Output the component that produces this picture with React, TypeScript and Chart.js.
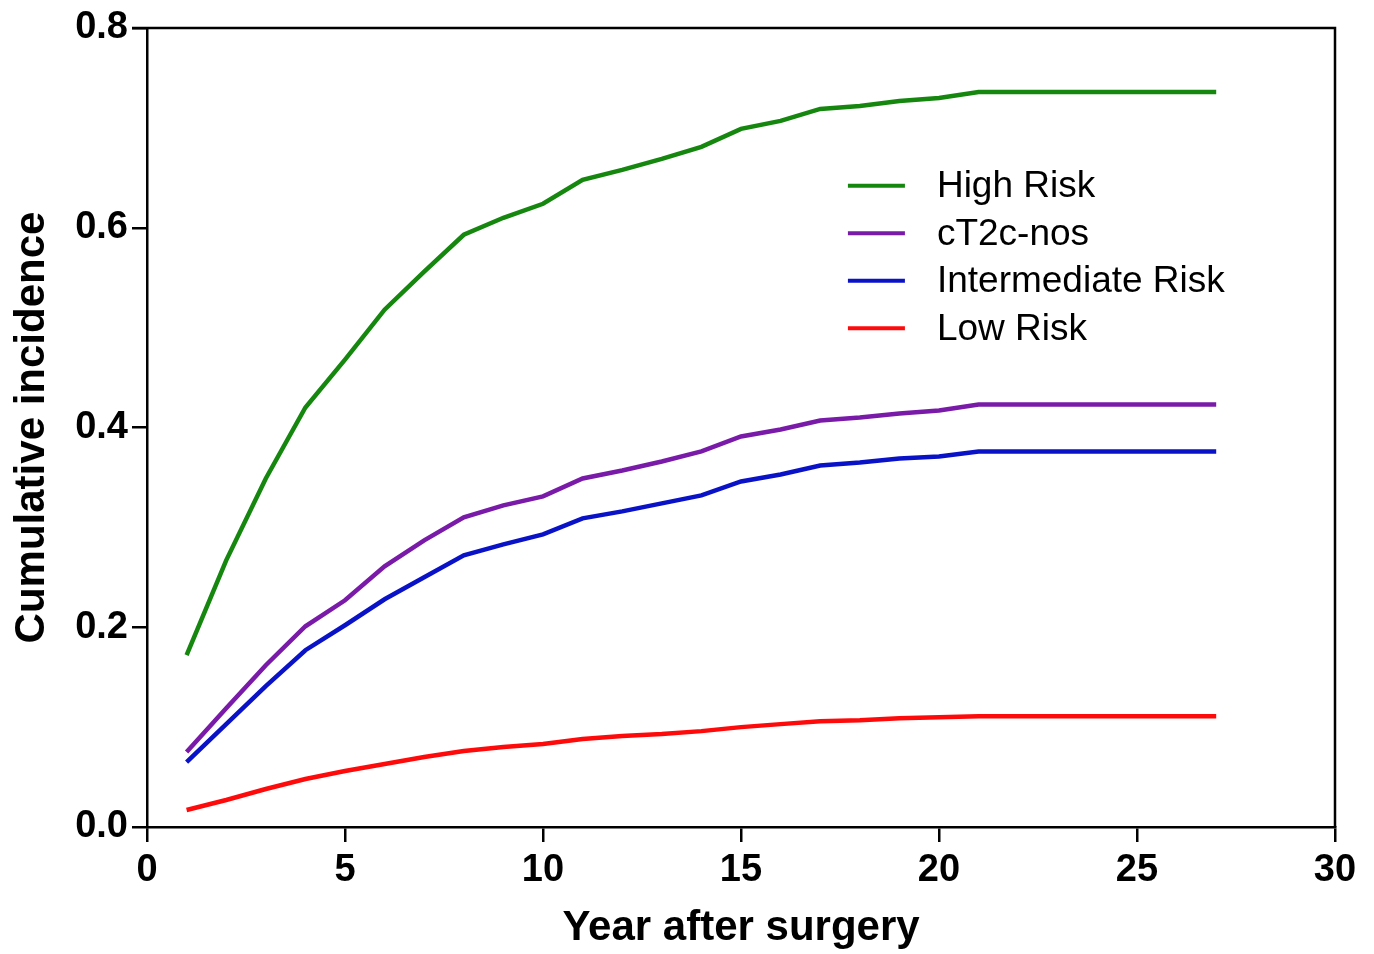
import React, { useEffect, useRef } from "react";
import { Chart, registerables } from "chart.js";

Chart.register(...registerables);

const years = [1, 2, 3, 4, 5, 6, 7, 8, 9, 10, 11, 12, 13, 14, 15, 16, 17, 18, 19, 20, 21, 22, 23, 24, 25, 26, 27];

const highRisk = [0.172, 0.267, 0.349, 0.42, 0.468, 0.518, 0.556, 0.593, 0.61, 0.624, 0.648, 0.658, 0.669, 0.681, 0.699, 0.707, 0.719, 0.722, 0.727, 0.73, 0.736, 0.736, 0.736, 0.736, 0.736, 0.736, 0.736];
const cT2cNos = [0.075, 0.119, 0.162, 0.201, 0.227, 0.261, 0.287, 0.31, 0.322, 0.331, 0.349, 0.357, 0.366, 0.376, 0.391, 0.398, 0.407, 0.41, 0.414, 0.417, 0.423, 0.423, 0.423, 0.423, 0.423, 0.423, 0.423];
const intermediateRisk = [0.065, 0.103, 0.141, 0.177, 0.202, 0.228, 0.25, 0.272, 0.283, 0.293, 0.309, 0.316, 0.324, 0.332, 0.346, 0.353, 0.362, 0.365, 0.369, 0.371, 0.376, 0.376, 0.376, 0.376, 0.376, 0.376, 0.376];
const lowRisk = [0.017, 0.027, 0.038, 0.048, 0.056, 0.063, 0.07, 0.076, 0.08, 0.083, 0.088, 0.091, 0.093, 0.096, 0.1, 0.103, 0.106, 0.107, 0.109, 0.11, 0.111, 0.111, 0.111, 0.111, 0.111, 0.111, 0.111];

const seriesLabels = ["High Risk", "cT2c-nos", "Intermediate Risk", "Low Risk"];
const seriesColors = ["#15870f", "#7a1aa8", "#0a12c8", "#ff0a0a"];
const xTicks = [0, 5, 10, 15, 20, 25, 30];
const yTicks = [0, 0.2, 0.4, 0.6, 0.8];

const FONT = "'Liberation Sans', Arial, sans-serif";

const frameAndLegend = {
  id: "frameAndLegend",
  afterDraw(chart: any) {
    const { ctx, chartArea } = chart;
    ctx.save();
    ctx.strokeStyle = "#000";
    ctx.lineWidth = 2.5;
    ctx.beginPath();
    ctx.moveTo(chartArea.left - 15, chartArea.top);
    ctx.lineTo(chartArea.right, chartArea.top);
    ctx.lineTo(chartArea.right, chartArea.bottom);
    ctx.stroke();
    // legend
    const x0 = chart.scales.x.getPixelForValue(17.7);
    const y0 = chart.scales.y.getPixelForValue(0.642);
    const rowH = 47.5;
    ctx.font = `37px ${FONT}`;
    ctx.textBaseline = "middle";
    ctx.textAlign = "left";
    chart.data.datasets.forEach((ds: any, i: number) => {
      const y = y0 + i * rowH;
      ctx.strokeStyle = ds.borderColor;
      ctx.lineWidth = 4;
      ctx.beginPath();
      ctx.moveTo(x0, y);
      ctx.lineTo(x0 + 57, y);
      ctx.stroke();
      ctx.fillStyle = "#000";
      ctx.fillText(ds.label, x0 + 89, y + 1);
    });
    ctx.restore();
  },
};

export default function App() {
  const ref = useRef<HTMLCanvasElement | null>(null);
  useEffect(() => {
    if (!ref.current) return;
    const allSeries = [highRisk, cT2cNos, intermediateRisk, lowRisk];
    const chart = new Chart(ref.current, {
      type: "line",
      data: {
        datasets: allSeries.map((s, i) => ({
          label: seriesLabels[i],
          data: years.map((x, j) => ({ x, y: s[j] })),
          borderColor: seriesColors[i],
          backgroundColor: seriesColors[i],
          borderWidth: 4.5,
          pointRadius: 0,
          tension: 0,
          fill: false,
        })),
      },
      options: {
        responsive: false,
        animation: false,
        layout: { padding: { top: 28, right: 39, left: 0, bottom: 0 } },
        plugins: { legend: { display: false }, tooltip: { enabled: false } },
        scales: {
          x: {
            type: "linear",
            min: 0,
            max: 30,
            afterBuildTicks: (s: any) => {
              s.ticks = xTicks.map((v) => ({ value: v }));
            },
            afterFit: (s: any) => {
              s.height = 127;
            },
            ticks: {
              color: "#000",
              font: { family: FONT, size: 38, weight: "bold" },
              padding: 6,
              maxRotation: 0,
            },
            grid: { display: true, drawOnChartArea: false, drawTicks: true, tickLength: 15, color: "#000", lineWidth: 2.5 },
            border: { display: true, color: "#000", width: 2.5 },
            title: {
              display: true,
              text: "Year after surgery",
              color: "#000",
              font: { family: FONT, size: 42, weight: "bold" },
              padding: { top: 0, bottom: 0 },
            },
          },
          y: {
            type: "linear",
            min: 0,
            max: 0.8,
            afterBuildTicks: (s: any) => {
              s.ticks = yTicks.map((v) => ({ value: v }));
            },
            afterFit: (s: any) => {
              s.width = 147;
            },
            ticks: {
              color: "#000",
              font: { family: FONT, size: 38, weight: "bold" },
              padding: 4,
              callback: (v: any) => Number(v).toFixed(1),
            },
            grid: { display: true, drawOnChartArea: false, drawTicks: true, tickLength: 15, color: "#000", lineWidth: 2.5 },
            border: { display: true, color: "#000", width: 2.5 },
            title: {
              display: true,
              text: "Cumulative incidence",
              color: "#000",
              font: { family: FONT, size: 42, weight: "bold" },
              padding: { top: 7, bottom: 0 },
            },
          },
        },
      },
      plugins: [frameAndLegend],
    });
    return () => chart.destroy();
  }, []);
  return (
    <div style={{ position: "absolute", left: 0, top: 0, width: 1374, height: 954, background: "#fff" }}>
      <canvas ref={ref} width={1374} height={954} style={{ display: "block" }} />
    </div>
  );
}
